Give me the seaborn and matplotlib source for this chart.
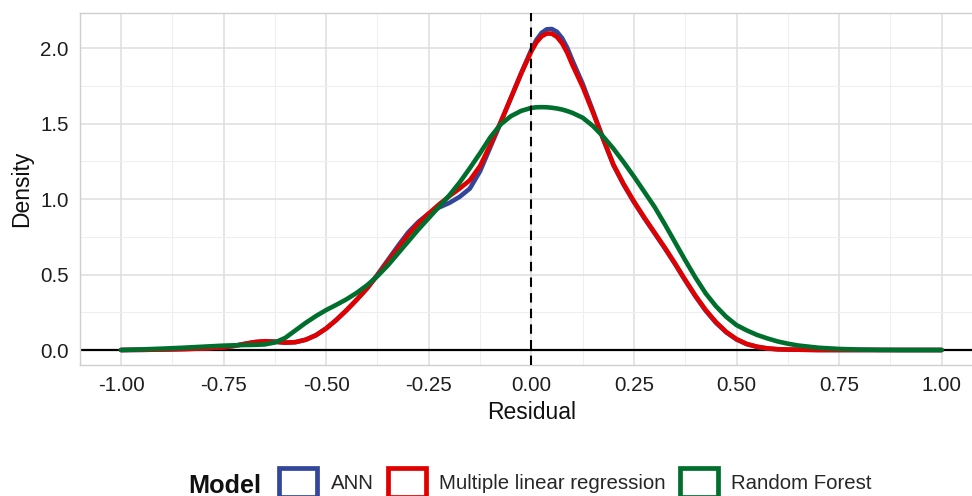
import numpy as np
import pandas as pd
import matplotlib
matplotlib.use("Agg")
import matplotlib.pyplot as plt
import seaborn as sns
from matplotlib.patches import Patch
from matplotlib.ticker import FixedLocator

# ---- data ----
residual = [-1.00, -0.95, -0.90, -0.85, -0.80, -0.75,
            -0.725, -0.70, -0.675, -0.65, -0.625, -0.60, -0.575, -0.55, -0.525, -0.50,
            -0.475, -0.45, -0.425, -0.40, -0.375, -0.35, -0.325, -0.30, -0.275, -0.25,
            -0.225, -0.20, -0.175, -0.15, -0.125, -0.10, -0.075, -0.05, -0.025, 0.00,
            0.0125, 0.025, 0.0375, 0.05, 0.0625, 0.075, 0.0875, 0.10,
            0.125, 0.15, 0.175, 0.20, 0.225, 0.25, 0.275, 0.30, 0.325, 0.35,
            0.375, 0.40, 0.425, 0.45, 0.475, 0.50, 0.525, 0.55, 0.575, 0.60,
            0.625, 0.65, 0.70, 0.75, 0.80, 0.85, 0.90, 0.95, 1.00]

ann = [0.000, 0.001, 0.003, 0.006, 0.010, 0.018,
       0.027, 0.040, 0.052, 0.058, 0.055, 0.049, 0.052, 0.068, 0.098, 0.143,
       0.200, 0.265, 0.335, 0.410, 0.500, 0.595, 0.690, 0.780, 0.850, 0.905,
       0.945, 0.975, 1.015, 1.070, 1.185, 1.345, 1.505, 1.670, 1.835, 1.990,
       2.056, 2.102, 2.126, 2.128, 2.109, 2.067, 2.003, 1.920,
       1.765, 1.585, 1.400, 1.225, 1.095, 0.980, 0.875, 0.775, 0.675, 0.570,
       0.460, 0.355, 0.260, 0.180, 0.117, 0.070, 0.039, 0.021, 0.010, 0.005,
       0.003, 0.002, 0.000, 0.000, 0.000, 0.000, 0.000, 0.000, 0.000]

mlr = [0.000, 0.001, 0.003, 0.006, 0.010, 0.018,
       0.027, 0.040, 0.052, 0.058, 0.055, 0.049, 0.052, 0.068, 0.098, 0.143,
       0.200, 0.265, 0.335, 0.410, 0.495, 0.585, 0.675, 0.765, 0.840, 0.905,
       0.965, 1.020, 1.070, 1.125, 1.220, 1.360, 1.510, 1.670, 1.830, 1.980,
       2.040, 2.079, 2.098, 2.097, 2.075, 2.033, 1.970, 1.890,
       1.745, 1.575, 1.400, 1.230, 1.100, 0.985, 0.880, 0.780, 0.680, 0.575,
       0.465, 0.360, 0.265, 0.185, 0.120, 0.072, 0.040, 0.022, 0.011, 0.005,
       0.003, 0.002, 0.000, 0.000, 0.000, 0.000, 0.000, 0.000, 0.000]

rf = [0.000, 0.004, 0.009, 0.015, 0.022, 0.029,
      0.031, 0.033, 0.034, 0.037, 0.050, 0.080, 0.130, 0.180, 0.225, 0.265,
      0.300, 0.337, 0.380, 0.430, 0.490, 0.560, 0.640, 0.720, 0.800, 0.875,
      0.950, 1.025, 1.110, 1.205, 1.305, 1.410, 1.495, 1.550, 1.585, 1.605,
      1.609, 1.610, 1.609, 1.606, 1.601, 1.594, 1.584, 1.572,
      1.540, 1.485, 1.415, 1.335, 1.245, 1.150, 1.050, 0.950, 0.835, 0.715,
      0.595, 0.480, 0.375, 0.290, 0.220, 0.165, 0.130, 0.100, 0.077, 0.057,
      0.042, 0.030, 0.015, 0.007, 0.003, 0.001, 0.000, 0.000, 0.000]

models = ["ANN", "Multiple linear regression", "Random Forest"]
colors = ["#33479A", "#E00000", "#006F2E"]
x_ticks = [-1.00, -0.75, -0.50, -0.25, 0.00, 0.25, 0.50, 0.75, 1.00]
y_ticks = [0.0, 0.5, 1.0, 1.5, 2.0]

df = pd.DataFrame({
    "Residual": residual * 3,
    "Density": ann + mlr + rf,
    "Model": [m for m in models for _ in residual],
})

# ---- style ----
sns.set_theme(style="white")
plt.rcParams['font.family'] = ['Liberation Sans', 'DejaVu Sans']
plt.rcParams['axes.unicode_minus'] = False

W, H = 972, 496
fig = plt.figure(figsize=(W / 100, H / 100), dpi=100)
ax = fig.add_axes([80 / W, 131 / H, 902.7 / W, 352.3 / H])

ax.set_xlim(-1.1, 1.1)
ax.set_ylim(-0.0994, 2.236)

ax.axhline(0, color="black", lw=1.6, zorder=2)
sns.lineplot(data=df, x="Residual", y="Density", hue="Model", hue_order=models,
             palette=dict(zip(models, colors)), lw=3.3, legend=False,
             estimator=None, sort=False, ax=ax, zorder=3)
for ln in ax.get_lines():
    ln.set_solid_joinstyle("round")
    ln.set_solid_capstyle("round")
ax.axvline(0, color="black", lw=1.5, ls=(0, (4.5, 3)), zorder=4)

# ticks & grid
ax.xaxis.set_major_locator(FixedLocator(x_ticks))
ax.yaxis.set_major_locator(FixedLocator(y_ticks))
ax.set_xticklabels([f"{v:.2f}" for v in x_ticks])
ax.set_yticklabels([f"{v:.1f}" for v in y_ticks])
x_minor = [(a + b) / 2 for a, b in zip(x_ticks[:-1], x_ticks[1:])]
y_minor = [(a + b) / 2 for a, b in zip(y_ticks[:-1], y_ticks[1:])]
ax.xaxis.set_minor_locator(FixedLocator(x_minor))
ax.yaxis.set_minor_locator(FixedLocator(y_minor))
ax.grid(which="major", color="#DEDEDE", lw=1.1, zorder=0)
ax.grid(which="minor", color="#EFEFEF", lw=0.8, zorder=0)
ax.set_axisbelow(True)

ax.tick_params(which="major", length=3.5, width=1.0, color="#BDBDBD",
               labelsize=14.8, labelcolor="#1E1E1E", pad=4.5)
ax.tick_params(which="minor", length=0)
for s in ax.spines.values():
    s.set_color("#CFCFCF")
    s.set_linewidth(1.0)

ax.set_xlabel("Residual", fontsize=16.5, color="#111111")
ax.set_ylabel("Density", fontsize=16.5, color="#111111")
ax.xaxis.set_label_coords(0.5, -0.101)
ax.yaxis.set_label_coords(-0.052, 0.5)

# legend
handles = [Patch(facecolor="white", edgecolor=c, lw=3.4, label=m)
           for m, c in zip(models, colors)]
fig.legend(handles=handles, loc="center", bbox_to_anchor=(575.5 / W, 13.75 / H),
           ncol=3, frameon=False, fontsize=14.7, handlelength=1.86,
           handleheight=1.8, handletextpad=0.65, columnspacing=0.7,
           borderpad=0, borderaxespad=0)
fig.text(188 / W, 3.3 / H, "Model", fontweight="bold", fontsize=18.2,
         ha="left", va="baseline", color="#111111")

fig.savefig("out.png", dpi=100)
